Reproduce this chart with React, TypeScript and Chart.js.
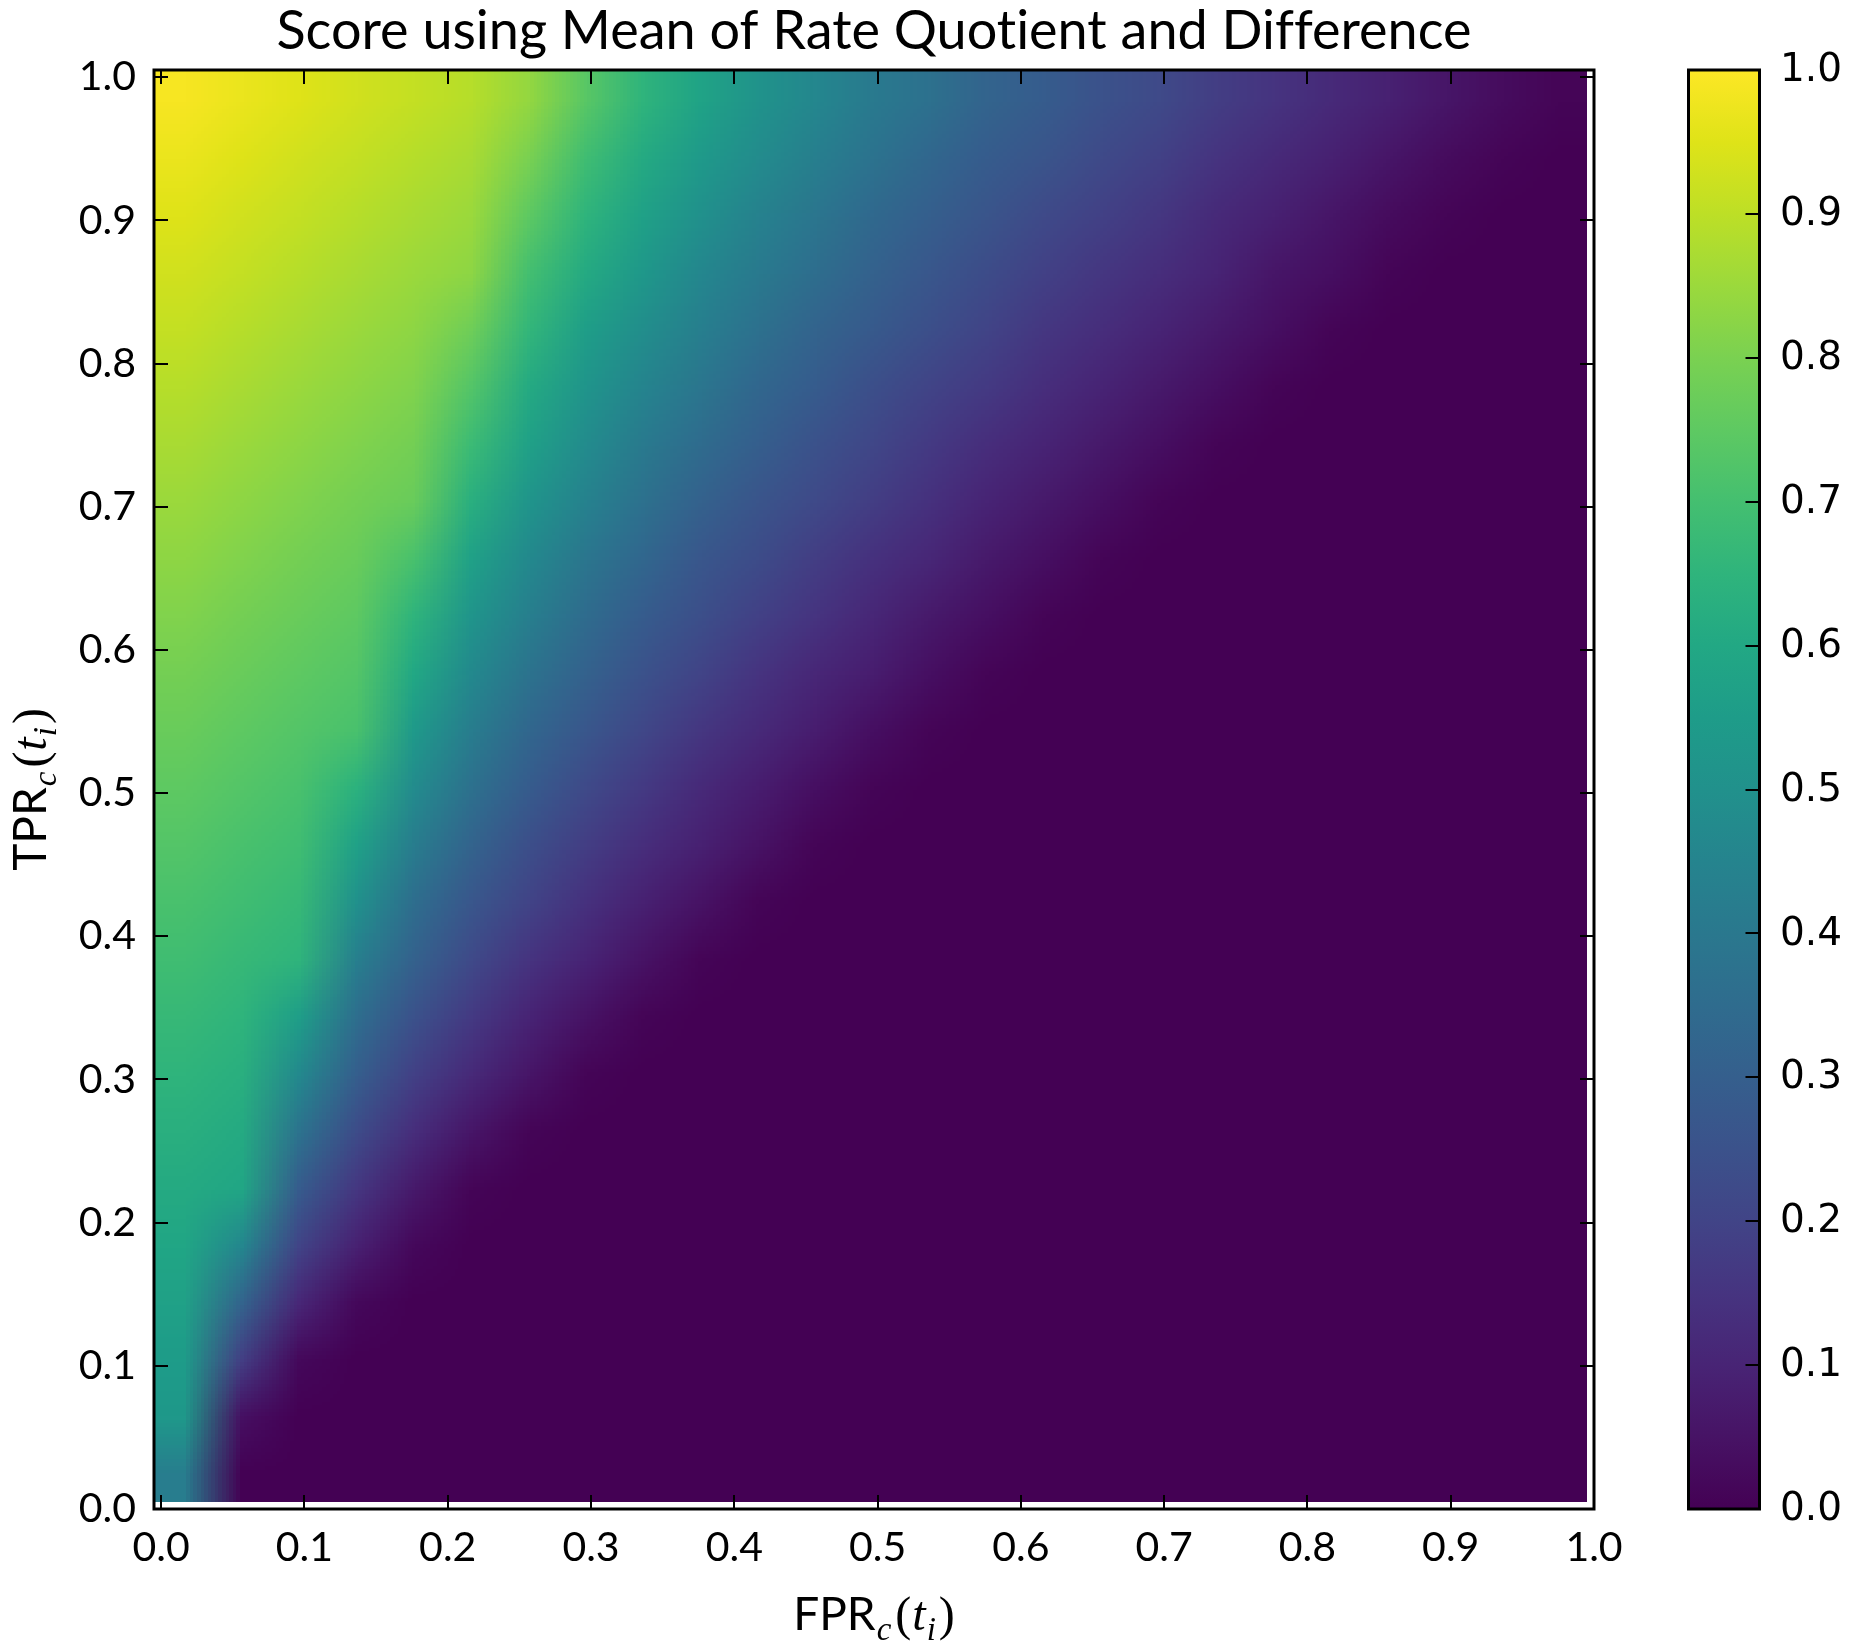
import React, { useEffect, useRef } from "react";
import { Chart, registerables } from "chart.js";

Chart.register(...registerables);

// ---------------- data ----------------
const TITLE = "Score using Mean of Rate Quotient and Difference";

// cell centres of the heat map (FPR along x, TPR along y)
const FPR_CENTERS = [
  0.015, 0.055, 0.095, 0.135, 0.175, 0.215, 0.255, 0.295, 0.335, 0.375, 0.415, 0.455, 0.495,
  0.535, 0.575, 0.615, 0.655, 0.695, 0.735, 0.775, 0.815, 0.855, 0.895, 0.935, 0.975,
];
const TPR_CENTERS = [
  0.025, 0.065, 0.105, 0.145, 0.185, 0.225, 0.265, 0.305, 0.345, 0.385, 0.425, 0.465, 0.505,
  0.545, 0.585, 0.625, 0.665, 0.705, 0.745, 0.785, 0.825, 0.865, 0.905, 0.945, 0.985,
];

// score per cell, one row per TPR centre (bottom row first), one column per FPR centre
const SCORE_ROWS: number[][] = [
  [0.42, 0, 0, 0, 0, 0, 0, 0, 0, 0, 0, 0, 0, 0, 0, 0, 0, 0, 0, 0, 0, 0, 0, 0, 0],
  [0.53, 0.04, 0, 0, 0, 0, 0, 0, 0, 0, 0, 0, 0, 0, 0, 0, 0, 0, 0, 0, 0, 0, 0, 0, 0],
  [0.55, 0.18, 0.02, 0, 0, 0, 0, 0, 0, 0, 0, 0, 0, 0, 0, 0, 0, 0, 0, 0, 0, 0, 0, 0, 0],
  [0.57, 0.32, 0.11, 0.02, 0, 0, 0, 0, 0, 0, 0, 0, 0, 0, 0, 0, 0, 0, 0, 0, 0, 0, 0, 0, 0],
  [0.59, 0.46, 0.2, 0.09, 0.02, 0, 0, 0, 0, 0, 0, 0, 0, 0, 0, 0, 0, 0, 0, 0, 0, 0, 0, 0, 0],
  [0.61, 0.59, 0.29, 0.16, 0.07, 0.01, 0, 0, 0, 0, 0, 0, 0, 0, 0, 0, 0, 0, 0, 0, 0, 0, 0, 0, 0],
  [0.63, 0.61, 0.38, 0.23, 0.13, 0.06, 0.01, 0, 0, 0, 0, 0, 0, 0, 0, 0, 0, 0, 0, 0, 0, 0, 0, 0, 0],
  [0.65, 0.63, 0.47, 0.3, 0.19, 0.12, 0.06, 0.01, 0, 0, 0, 0, 0, 0, 0, 0, 0, 0, 0, 0, 0, 0, 0, 0, 0],
  [0.67, 0.65, 0.56, 0.36, 0.25, 0.17, 0.1, 0.05, 0.01, 0, 0, 0, 0, 0, 0, 0, 0, 0, 0, 0, 0, 0, 0, 0, 0],
  [0.69, 0.67, 0.65, 0.43, 0.31, 0.22, 0.15, 0.1, 0.05, 0.01, 0, 0, 0, 0, 0, 0, 0, 0, 0, 0, 0, 0, 0, 0, 0],
  [0.71, 0.69, 0.67, 0.5, 0.36, 0.27, 0.2, 0.14, 0.09, 0.05, 0.01, 0, 0, 0, 0, 0, 0, 0, 0, 0, 0, 0, 0, 0, 0],
  [0.73, 0.71, 0.69, 0.57, 0.42, 0.32, 0.24, 0.18, 0.13, 0.09, 0.05, 0.01, 0, 0, 0, 0, 0, 0, 0, 0, 0, 0, 0, 0, 0],
  [0.75, 0.73, 0.71, 0.64, 0.48, 0.37, 0.29, 0.22, 0.17, 0.12, 0.08, 0.04, 0.01, 0, 0, 0, 0, 0, 0, 0, 0, 0, 0, 0, 0],
  [0.77, 0.75, 0.73, 0.71, 0.54, 0.42, 0.33, 0.27, 0.21, 0.16, 0.12, 0.08, 0.04, 0.01, 0, 0, 0, 0, 0, 0, 0, 0, 0, 0, 0],
  [0.79, 0.77, 0.75, 0.73, 0.6, 0.47, 0.38, 0.31, 0.25, 0.2, 0.15, 0.11, 0.08, 0.04, 0.01, 0, 0, 0, 0, 0, 0, 0, 0, 0, 0],
  [0.81, 0.79, 0.77, 0.75, 0.65, 0.52, 0.43, 0.35, 0.29, 0.24, 0.19, 0.15, 0.11, 0.07, 0.04, 0.01, 0, 0, 0, 0, 0, 0, 0, 0, 0],
  [0.83, 0.81, 0.79, 0.77, 0.71, 0.57, 0.47, 0.39, 0.33, 0.27, 0.23, 0.18, 0.14, 0.11, 0.07, 0.04, 0.01, 0, 0, 0, 0, 0, 0, 0, 0],
  [0.85, 0.83, 0.81, 0.79, 0.77, 0.63, 0.52, 0.44, 0.37, 0.31, 0.26, 0.22, 0.18, 0.14, 0.1, 0.07, 0.04, 0.01, 0, 0, 0, 0, 0, 0, 0],
  [0.87, 0.85, 0.83, 0.81, 0.79, 0.68, 0.57, 0.48, 0.41, 0.35, 0.3, 0.25, 0.21, 0.17, 0.13, 0.1, 0.07, 0.04, 0.01, 0, 0, 0, 0, 0, 0],
  [0.89, 0.87, 0.85, 0.83, 0.81, 0.73, 0.61, 0.52, 0.45, 0.39, 0.33, 0.29, 0.24, 0.2, 0.17, 0.13, 0.1, 0.07, 0.04, 0.01, 0, 0, 0, 0, 0],
  [0.91, 0.89, 0.87, 0.85, 0.83, 0.78, 0.66, 0.56, 0.49, 0.43, 0.37, 0.32, 0.28, 0.24, 0.2, 0.16, 0.13, 0.1, 0.07, 0.04, 0.01, 0, 0, 0, 0],
  [0.93, 0.91, 0.89, 0.87, 0.85, 0.83, 0.7, 0.61, 0.53, 0.46, 0.41, 0.36, 0.31, 0.27, 0.23, 0.19, 0.16, 0.13, 0.1, 0.06, 0.04, 0.01, 0, 0, 0],
  [0.95, 0.93, 0.91, 0.89, 0.87, 0.85, 0.75, 0.65, 0.57, 0.5, 0.44, 0.39, 0.34, 0.3, 0.26, 0.22, 0.19, 0.16, 0.12, 0.09, 0.06, 0.03, 0.01, 0, 0],
  [0.97, 0.95, 0.93, 0.91, 0.89, 0.87, 0.8, 0.69, 0.61, 0.54, 0.48, 0.43, 0.38, 0.33, 0.29, 0.26, 0.22, 0.19, 0.15, 0.12, 0.09, 0.06, 0.03, 0.01, 0],
  [0.99, 0.97, 0.95, 0.93, 0.91, 0.89, 0.84, 0.74, 0.65, 0.58, 0.51, 0.46, 0.41, 0.37, 0.32, 0.29, 0.25, 0.22, 0.18, 0.15, 0.12, 0.09, 0.06, 0.03, 0.01],
];

const AXIS_TICKS = [0, 0.1, 0.2, 0.3, 0.4, 0.5, 0.6, 0.7, 0.8, 0.9, 1.0];
const COLORBAR_TICKS = [0, 0.1, 0.2, 0.3, 0.4, 0.5, 0.6, 0.7, 0.8, 0.9, 1.0];
const X_LIMITS = [-0.005, 1.0];
const Y_LIMITS = [0, 1.005];
const COLOR_LIMITS = [0, 1];

// viridis colour map stops (0 .. 1 in steps of 0.05)
const VIRIDIS = [
  "#440154", "#471365", "#482475", "#463480", "#414487", "#3b528b", "#355f8d",
  "#2f6c8e", "#2a788e", "#25848e", "#21918c", "#1e9c89", "#22a884", "#2fb47c",
  "#44bf70", "#5ec962", "#7ad151", "#9bd93c", "#bddf26", "#dfe318", "#fde725",
];

// ---------------- helpers ----------------
function hexToRgb(h: string): [number, number, number] {
  const n = parseInt(h.slice(1), 16);
  return [(n >> 16) & 255, (n >> 8) & 255, n & 255];
}
const VIRIDIS_RGB = VIRIDIS.map(hexToRgb);

function viridis(t: number): [number, number, number] {
  const c = Math.max(0, Math.min(1, t));
  const pos = c * (VIRIDIS_RGB.length - 1);
  const i = Math.min(VIRIDIS_RGB.length - 2, Math.floor(pos));
  const f = pos - i;
  const a = VIRIDIS_RGB[i];
  const b = VIRIDIS_RGB[i + 1];
  return [0, 1, 2].map((k) => Math.round(a[k] + (b[k] - a[k]) * f)) as [number, number, number];
}

const SANS = "Lato";
const CB_FONT = '"DejaVu Sans"';
const TICK_LEN = 14;

function drawMathLabel(ctx: CanvasRenderingContext2D, cx: number, cy: number, rotate: boolean, main: string) {
  const parts = [
    { t: main, f: `46px ${SANS}`, dy: 0, gap: 1 },
    { t: "c", f: 'italic 33px "Liberation Serif"', dy: 10, gap: 4 },
    { t: "(", f: '48px "Liberation Serif"', dy: 0, gap: 1 },
    { t: "t", f: 'italic 48px "Liberation Serif"', dy: 0, gap: 1 },
    { t: "i", f: 'italic 33px "Liberation Serif"', dy: 10, gap: 3 },
    { t: ")", f: '48px "Liberation Serif"', dy: 0, gap: 0 },
  ];
  ctx.save();
  let total = 0;
  const widths = parts.map((p) => {
    ctx.font = p.f;
    const w = ctx.measureText(p.t).width + p.gap;
    total += w;
    return w;
  });
  ctx.translate(cx, cy);
  if (rotate) ctx.rotate(-Math.PI / 2);
  ctx.fillStyle = "#000";
  ctx.textBaseline = "alphabetic";
  ctx.textAlign = "left";
  let x = -total / 2;
  parts.forEach((p, i) => {
    ctx.font = p.f;
    ctx.fillText(p.t, x, 16 + p.dy);
    x += widths[i];
  });
  ctx.restore();
}

const heatmapPlugin = {
  id: "heatmapImage",
  beforeDatasetsDraw(chart: any) {
    const { ctx, chartArea } = chart;
    const xs = chart.scales.x;
    const ys = chart.scales.y;
    const nCols = FPR_CENTERS.length;
    const nRows = TPR_CENTERS.length;
    const off = document.createElement("canvas");
    off.width = nCols;
    off.height = nRows;
    const octx = off.getContext("2d")!;
    const img = octx.createImageData(nCols, nRows);
    for (let j = 0; j < nRows; j++) {
      for (let k = 0; k < nCols; k++) {
        const [r, g, b] = viridis((SCORE_ROWS[j][k] - COLOR_LIMITS[0]) / (COLOR_LIMITS[1] - COLOR_LIMITS[0]));
        const row = nRows - 1 - j;
        const idx = (row * nCols + k) * 4;
        img.data[idx] = r;
        img.data[idx + 1] = g;
        img.data[idx + 2] = b;
        img.data[idx + 3] = 255;
      }
    }
    octx.putImageData(img, 0, 0);
    const hx = (FPR_CENTERS[1] - FPR_CENTERS[0]) / 2;
    const hy = (TPR_CENTERS[1] - TPR_CENTERS[0]) / 2;
    const px0 = xs.getPixelForValue(FPR_CENTERS[0] - hx);
    const px1 = xs.getPixelForValue(FPR_CENTERS[nCols - 1] + hx);
    const py0 = ys.getPixelForValue(TPR_CENTERS[nRows - 1] + hy);
    const py1 = ys.getPixelForValue(TPR_CENTERS[0] - hy);
    ctx.save();
    ctx.beginPath();
    ctx.rect(chartArea.left, chartArea.top, chartArea.right - chartArea.left, chartArea.bottom - chartArea.top);
    ctx.clip();
    ctx.imageSmoothingEnabled = true;
    (ctx as any).imageSmoothingQuality = "low";
    ctx.drawImage(off, px0, py0, px1 - px0, py1 - py0);
    ctx.restore();
  },
};

const framePlugin = {
  id: "frameAndDecor",
  afterDraw(chart: any) {
    const { ctx, chartArea } = chart;
    const { left, right, top, bottom } = chartArea;
    const xs = chart.scales.x;
    const ys = chart.scales.y;
    ctx.save();
    // ticks (inside, all four sides)
    ctx.strokeStyle = "#000";
    ctx.lineWidth = 2;
    ctx.beginPath();
    AXIS_TICKS.forEach((v) => {
      const px = Math.round(xs.getPixelForValue(v));
      ctx.moveTo(px, bottom);
      ctx.lineTo(px, bottom - TICK_LEN);
      ctx.moveTo(px, top);
      ctx.lineTo(px, top + TICK_LEN);
      const py = Math.round(ys.getPixelForValue(v));
      ctx.moveTo(left, py);
      ctx.lineTo(left + TICK_LEN, py);
      ctx.moveTo(right, py);
      ctx.lineTo(right - TICK_LEN, py);
    });
    ctx.stroke();
    // spines
    ctx.lineWidth = 3;
    ctx.strokeRect(left, top, right - left, bottom - top);

    // title
    ctx.fillStyle = "#000";
    ctx.font = `54px ${SANS}`;
    (ctx as any).textRendering = "optimizeSpeed";
    ctx.textAlign = "center";
    ctx.textBaseline = "alphabetic";
    ctx.fillText(TITLE, (left + right) / 2, 49);
    (ctx as any).textRendering = "auto";

    // axis labels
    drawMathLabel(ctx, (left + right) / 2, 1614, false, "FPR");
    drawMathLabel(ctx, 30, (top + bottom) / 2, true, "TPR");

    // colour bar
    const cbL = 1688.5;
    const cbR = 1759.5;
    const grad = ctx.createLinearGradient(0, bottom, 0, top);
    VIRIDIS.forEach((c, i) => grad.addColorStop(i / (VIRIDIS.length - 1), c));
    ctx.fillStyle = grad;
    ctx.fillRect(cbL, top, cbR - cbL, bottom - top);
    ctx.strokeStyle = "#000";
    ctx.lineWidth = 2;
    ctx.beginPath();
    COLORBAR_TICKS.forEach((v) => {
      const py = Math.round(bottom - ((v - COLOR_LIMITS[0]) / (COLOR_LIMITS[1] - COLOR_LIMITS[0])) * (bottom - top));
      ctx.moveTo(cbR, py);
      ctx.lineTo(cbR - TICK_LEN, py);
    });
    ctx.stroke();
    ctx.lineWidth = 3;
    ctx.strokeRect(cbL, top, cbR - cbL, bottom - top);
    ctx.fillStyle = "#000";
    ctx.font = `39px ${CB_FONT}`;
    ctx.textAlign = "left";
    ctx.textBaseline = "middle";
    COLORBAR_TICKS.forEach((v) => {
      const py = bottom - ((v - COLOR_LIMITS[0]) / (COLOR_LIMITS[1] - COLOR_LIMITS[0])) * (bottom - top);
      ctx.fillText(v.toFixed(1), 1780, py + 1);
    });
    ctx.restore();
  },
};

export default function App() {
  const canvasRef = useRef<HTMLCanvasElement | null>(null);

  useEffect(() => {
    const canvas = canvasRef.current;
    if (!canvas) return;
    const points: { x: number; y: number }[] = [];
    TPR_CENTERS.forEach((ty) => FPR_CENTERS.forEach((fx) => points.push({ x: fx, y: ty })));

    const tickFont = { family: SANS, size: 41 };
    const chart = new Chart(canvas, {
      type: "scatter",
      data: {
        datasets: [
          {
            label: "score",
            data: points,
            pointRadius: 0,
            pointHoverRadius: 0,
          },
        ],
      },
      options: {
        responsive: false,
        animation: false,
        events: [],
        devicePixelRatio: 1,
        layout: { padding: { left: 0, top: 70, right: 261, bottom: 0 } },
        plugins: {
          legend: { display: false },
          title: { display: false },
          tooltip: { enabled: false },
        },
        scales: {
          x: {
            type: "linear",
            min: X_LIMITS[0],
            max: X_LIMITS[1],
            grid: { display: false, drawTicks: false },
            border: { display: false },
            afterBuildTicks: (axis: any) => {
              axis.ticks = AXIS_TICKS.map((v) => ({ value: v }));
            },
            afterFit: (axis: any) => {
              axis.height = 143;
            },
            ticks: {
              callback: (v: any) => Number(v).toFixed(1),
              font: tickFont,
              color: "#000",
              padding: 14,
              maxRotation: 0,
              autoSkip: false,
            },
          },
          y: {
            type: "linear",
            min: Y_LIMITS[0],
            max: Y_LIMITS[1],
            grid: { display: false, drawTicks: false },
            border: { display: false },
            afterBuildTicks: (axis: any) => {
              axis.ticks = AXIS_TICKS.map((v) => ({ value: v }));
            },
            afterFit: (axis: any) => {
              axis.width = 154;
            },
            ticks: {
              callback: (v: any) => Number(v).toFixed(1),
              font: tickFont,
              color: "#000",
              padding: 18,
              autoSkip: false,
            },
          },
        },
      },
      plugins: [heatmapPlugin, framePlugin],
    } as any);
    return () => chart.destroy();
  }, []);

  return (
    <div style={{ position: "absolute", left: 0, top: 0, width: 1855, height: 1652, background: "#fff" }}>
      <canvas ref={canvasRef} width={1855} height={1652} style={{ display: "block" }} />
    </div>
  );
}
